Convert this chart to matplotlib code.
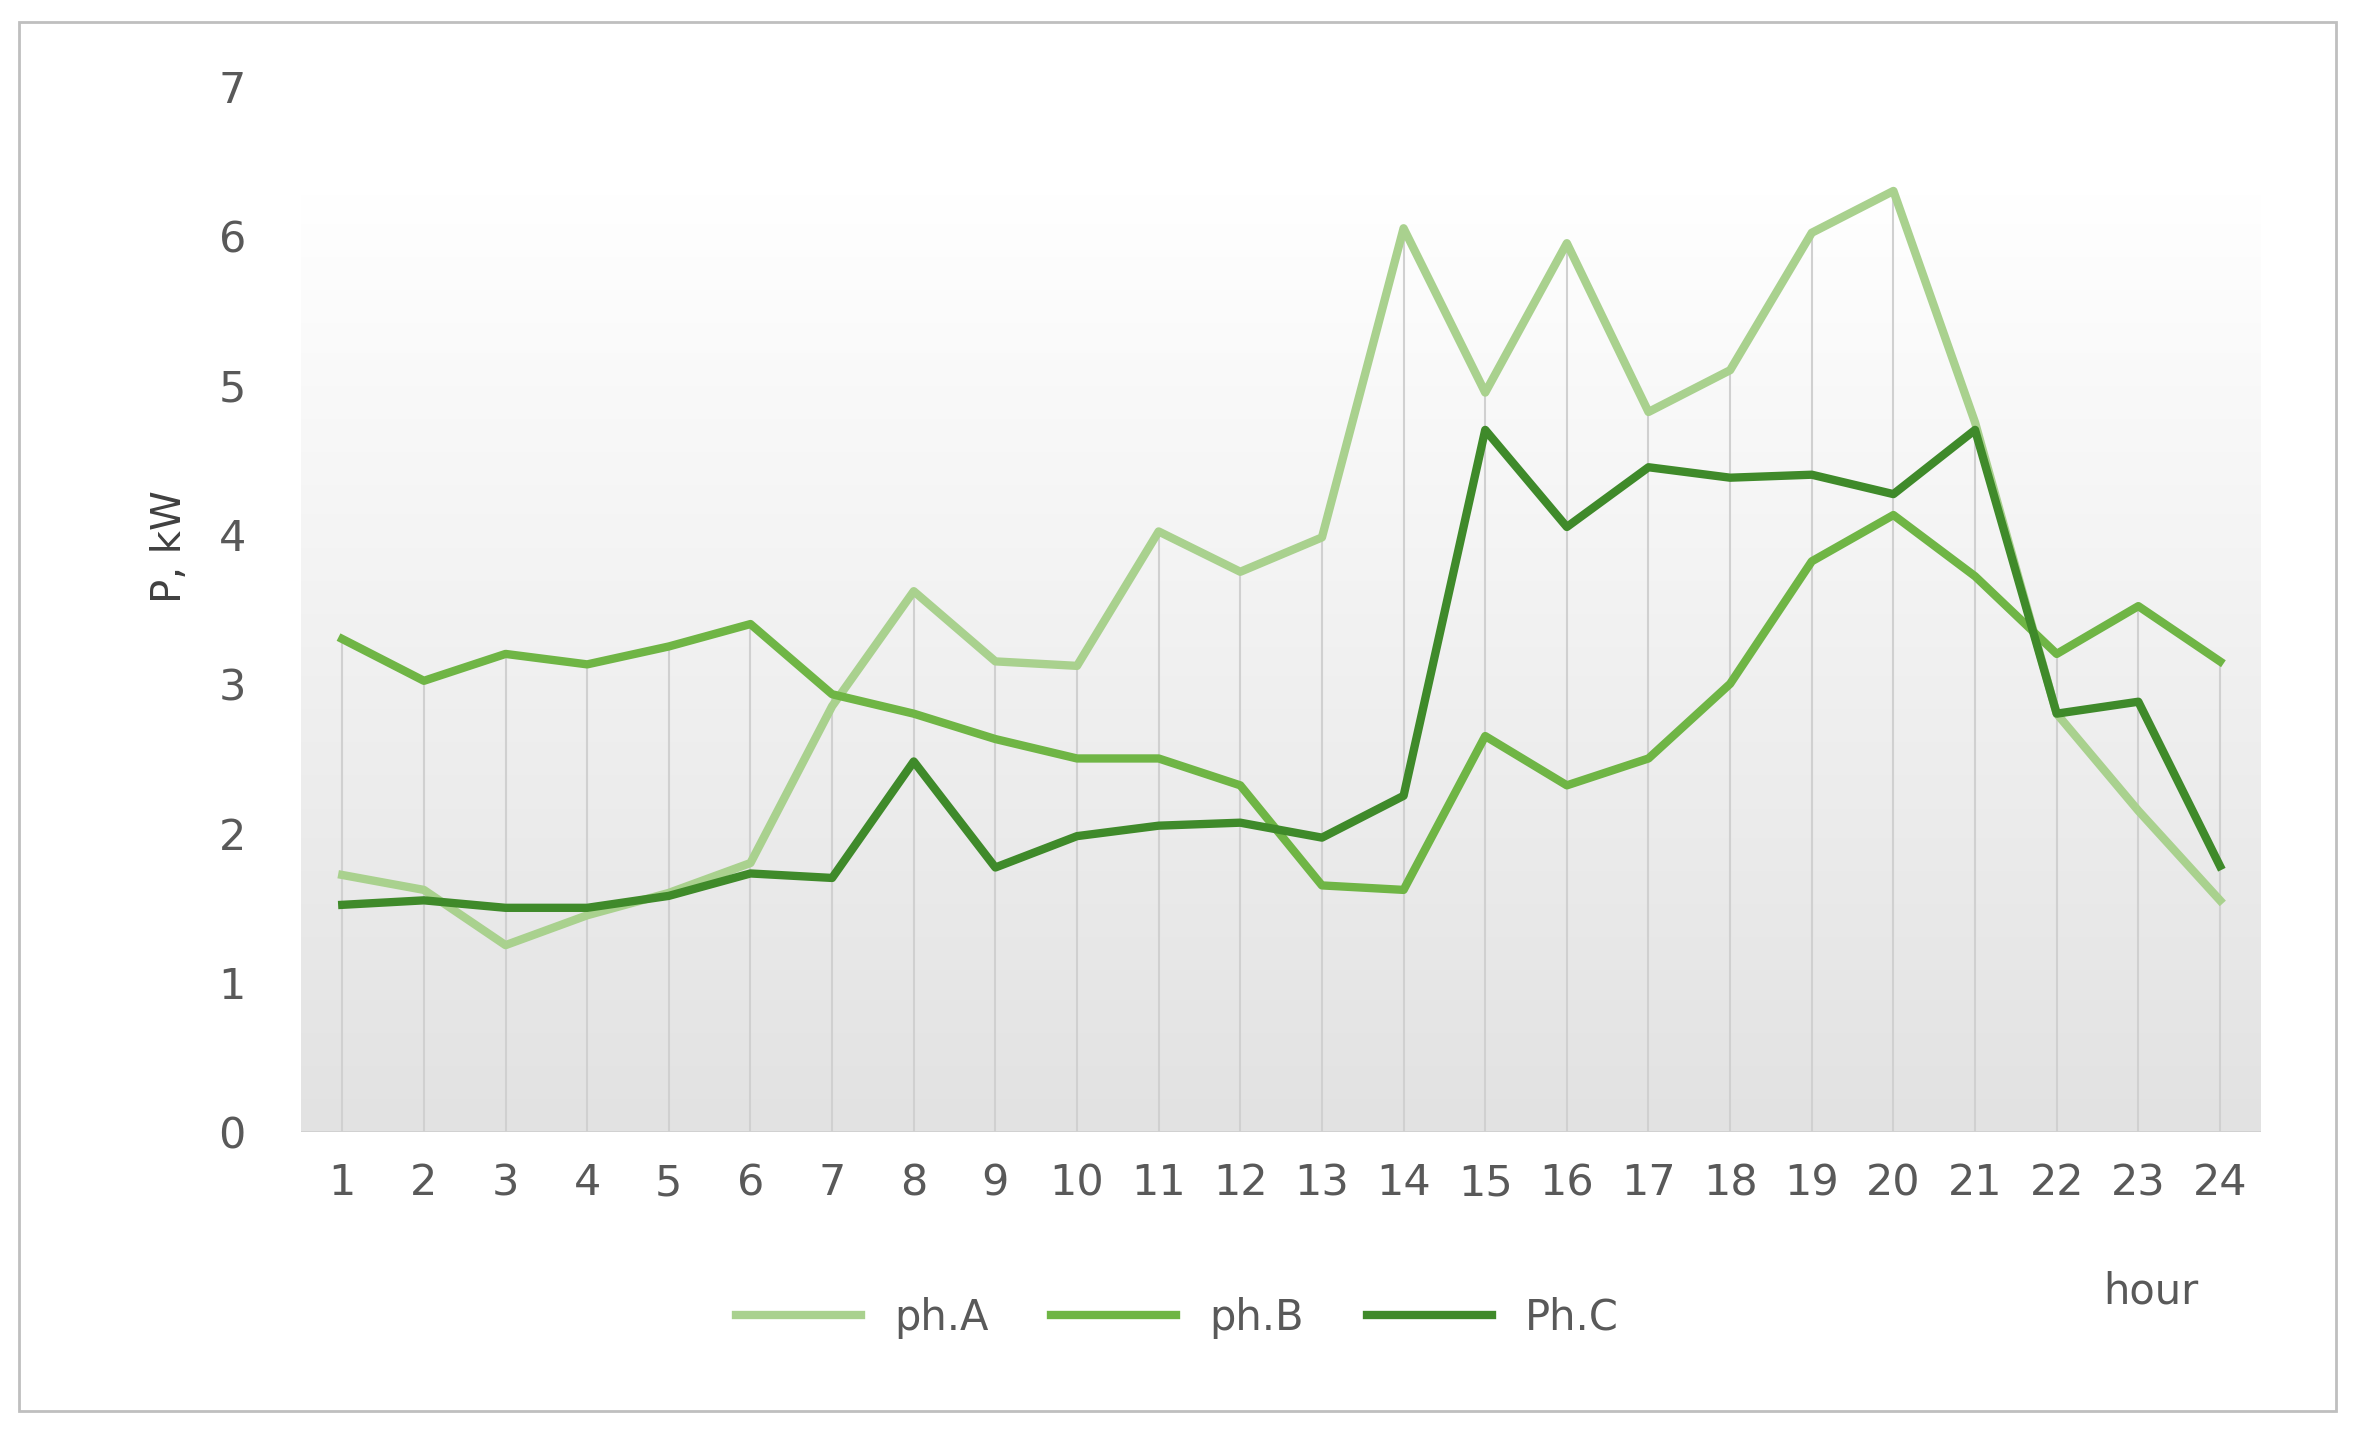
import matplotlib.pyplot as plt
import numpy as np
from matplotlib.patches import Rectangle

hours = list(range(1, 25))
ph_a = [1.72, 1.62, 1.25, 1.45, 1.6, 1.8, 2.85, 3.62, 3.15, 3.12, 4.02, 3.75,
        3.98, 6.05, 4.95, 5.95, 4.82, 5.1, 6.02, 6.3, 4.75, 2.8, 2.15, 1.55]
ph_b = [3.3, 3.02, 3.2, 3.13, 3.25, 3.4, 2.93, 2.8, 2.63, 2.5, 2.5, 2.32,
        1.65, 1.62, 2.65, 2.32, 2.5, 3.0, 3.82, 4.13, 3.72, 3.2, 3.52, 3.15]
ph_c = [1.52, 1.55, 1.5, 1.5, 1.58, 1.73, 1.7, 2.48, 1.77, 1.98, 2.05, 2.07,
        1.97, 2.25, 4.7, 4.05, 4.45, 4.38, 4.4, 4.27, 4.7, 2.8, 2.88, 1.78]
labels = ['ph.A', 'ph.B', 'Ph.C']
colors = ['#a9d18e', '#6fb545', '#3f8a2a']

fig = plt.figure(figsize=(23.55, 14.4), dpi=100)
fig.patches.append(Rectangle((0.008, 0.02), 0.984, 0.965, transform=fig.transFigure,
                             fill=False, edgecolor='#bfbfbf', linewidth=2))
ax = fig.add_axes([0.128, 0.214, 0.832, 0.726])

# gradient background
grad = np.linspace(0, 1, 256).reshape(-1, 1)
ax.imshow(grad, extent=[0.5, 24.5, 0, 6.3], aspect='auto', origin='lower',
          cmap=plt.matplotlib.colors.LinearSegmentedColormap.from_list('g', ['#e2e2e2', '#ffffff']),
          zorder=0)

tops = np.maximum(np.maximum(ph_a, ph_b), ph_c)
ax.vlines(hours, 0, tops, color='#d0d0d0', linewidth=1.5, zorder=1)
ax.axhline(0, color='#d0d0d0', linewidth=2, zorder=1)

for vals, lab, col in zip([ph_a, ph_b, ph_c], labels, colors):
    ax.plot(hours, vals, color=col, linewidth=6, label=lab, zorder=3)

ax.set_xlim(0.5, 24.5)
ax.set_ylim(0, 7)
ax.set_xticks(hours)
ax.set_yticks(range(0, 8))
ax.tick_params(length=0, labelsize=31, labelcolor='#595959')
ax.tick_params(axis='x', pad=22)
ax.tick_params(axis='y', pad=40)
for s in ax.spines.values():
    s.set_visible(False)
ax.set_ylabel('P, kW', fontsize=29, color='#404040')
ax.yaxis.set_label_coords(-0.057, 0.56)

fig.text(0.893, 0.095, 'hour', fontsize=30, color='#595959')
fig.legend(loc='center', bbox_to_anchor=(0.5, 0.085), ncol=3, frameon=False,
           fontsize=30, labelcolor='#595959', handlelength=3, columnspacing=1.5)

fig.savefig('out.png', dpi=100)
